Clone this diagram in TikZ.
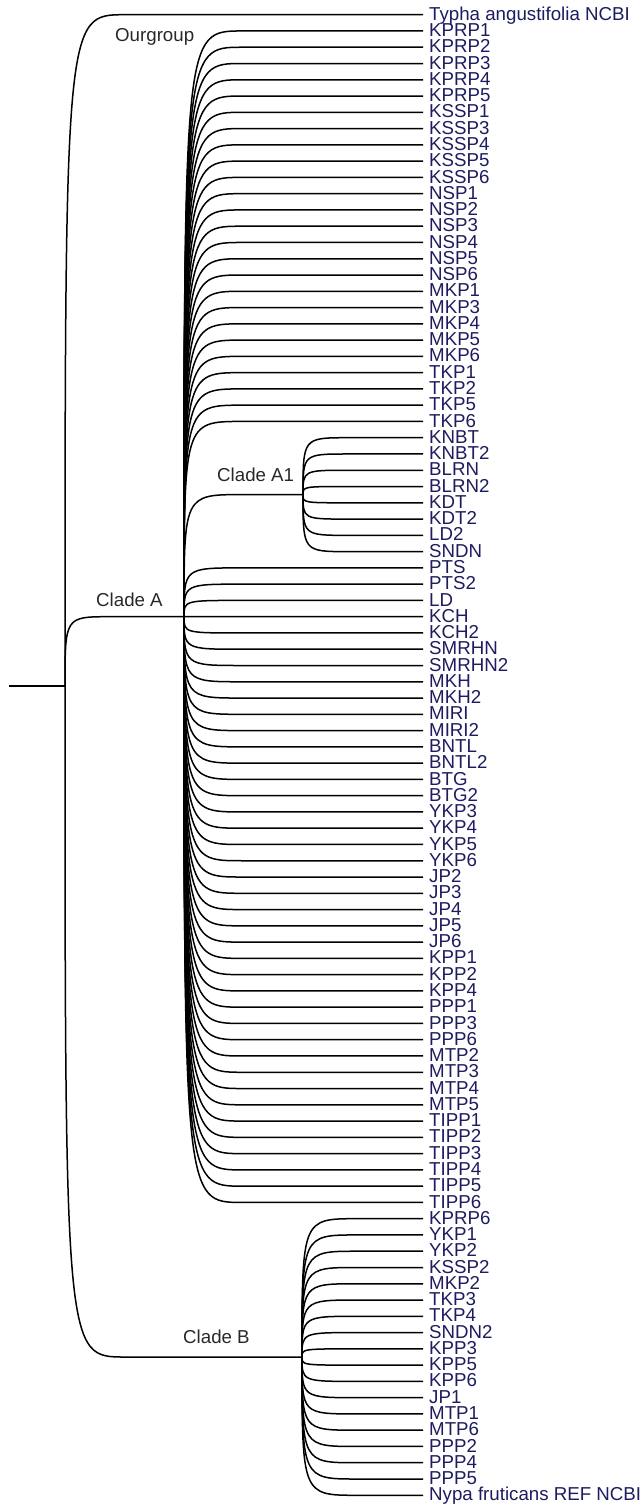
\documentclass[tikz,border=0pt]{standalone}
\usepackage{fontspec}
\setmainfont{Liberation Sans}
\usetikzlibrary{calc}
\definecolor{leafc}{RGB}{28,28,96}
\definecolor{cladec}{RGB}{40,40,40}
\begin{document}
\begin{tikzpicture}[x=1pt,y=-1pt,
  br/.style={line width=1.5pt},
  leaf/.style={anchor=base west, inner sep=0pt, text=leafc, font=\fontsize{18.7}{18.7}\selectfont},
  clab/.style={anchor=base west, inner sep=0pt, text=cladec, font=\fontsize{18.7}{18.7}\selectfont}]
\useasboundingbox (0,0) rectangle (642,1507);
% leaves
\foreach \lab [count=\i from 0] in {Typha angustifolia NCBI,KPRP1,KPRP2,KPRP3,KPRP4,KPRP5,KSSP1,KSSP3,KSSP4,KSSP5,KSSP6,NSP1,NSP2,NSP3,NSP4,NSP5,NSP6,MKP1,MKP3,MKP4,MKP5,MKP6,TKP1,TKP2,TKP5,TKP6,KNBT,KNBT2,BLRN,BLRN2,KDT,KDT2,LD2,SNDN,PTS,PTS2,LD,KCH,KCH2,SMRHN,SMRHN2,MKH,MKH2,MIRI,MIRI2,BNTL,BNTL2,BTG,BTG2,YKP3,YKP4,YKP5,YKP6,JP2,JP3,JP4,JP5,JP6,KPP1,KPP2,KPP4,PPP1,PPP3,PPP6,MTP2,MTP3,MTP4,MTP5,TIPP1,TIPP2,TIPP3,TIPP4,TIPP5,TIPP6,KPRP6,YKP1,YKP2,KSSP2,MKP2,TKP3,TKP4,SNDN2,KPP3,KPP5,KPP6,JP1,MTP1,MTP6,PPP2,PPP4,PPP5,Nypa fruticans REF NCBI}{
  \pgfmathsetmacro\yy{14.7+16.27*\i}
  \coordinate (t\i) at (423,\yy);
  \node[leaf] (l\i) at (429,\yy+5.6) {\lab};
}
% internal nodes
\coordinate (root0) at (9,686);
\coordinate (R) at (65,686);
\coordinate (A) at (184,616.7);
\coordinate (A1) at (303,494.6);
\coordinate (B) at (302,1357);
% root
\draw[br] (root0) -- (R);
\draw[br] (R) .. controls (R |- t0) .. ($(R |- t0)+(60,0)$) -- (t0);
\draw[br] (R) .. controls (R |- A) .. ($(R |- A)+(45,0)$) -- (A);
\draw[br] (R) .. controls (R |- B) .. ($(R |- B)+(60,0)$) -- (B);
% clade A
\foreach \i in {1,...,25,34,35,...,73}{
  \draw[br] (A) .. controls (A |- t\i) .. ($(A |- t\i)+(58,0)$) -- (t\i);
}
\draw[br] (A) .. controls (A |- A1) .. ($(A |- A1)+(58,0)$) -- (A1);
% clade A1
\foreach \i in {26,...,33}{
  \draw[br] (A1) .. controls (A1 |- t\i) .. ($(A1 |- t\i)+(45,0)$) -- (t\i);
}
% clade B
\foreach \i in {74,...,91}{
  \draw[br] (B) .. controls (B |- t\i) .. ($(B |- t\i)+(55,0)$) -- (t\i);
}
% clade labels
\node[clab] (og) at (115,41.5) {Ourgroup};
\node[clab] (cA) at (96,606.5) {Clade A};
\node[clab] (cA1) at (217,481.5) {Clade A1};
\node[clab] (cB) at (183,1343.5) {Clade B};
\end{tikzpicture}
\end{document}
